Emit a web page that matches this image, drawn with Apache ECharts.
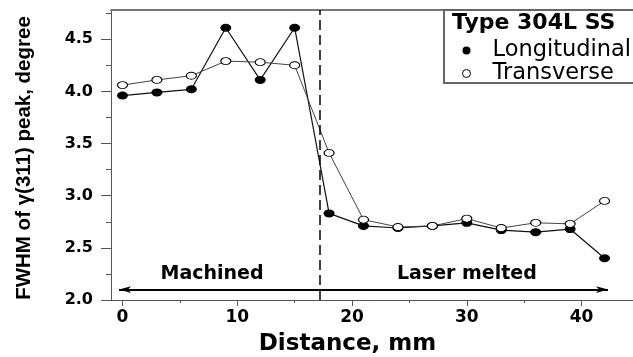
<!DOCTYPE html>
<html>
<head>
<meta charset="utf-8">
<script src="https://cdn.jsdelivr.net/npm/echarts@6/dist/echarts.min.js"></script>
<style>html,body{margin:0;padding:0;background:#fff}#c{width:633px;height:357px}</style>
</head>
<body>
<div id="c"></div>
<script>
const distance = [0, 3, 6, 9, 12, 15, 18, 21, 24, 27, 30, 33, 36, 39, 42];
const longitudinal = [3.96, 3.99, 4.02, 4.61, 4.11, 4.61, 2.83, 2.71, 2.69, 2.71, 2.74, 2.67, 2.65, 2.68, 2.40];
const transverse = [4.06, 4.11, 4.15, 4.29, 4.28, 4.25, 3.41, 2.77, 2.70, 2.71, 2.78, 2.69, 2.74, 2.73, 2.95];
const xMajorTicks = [0, 10, 20, 30, 40];
const xMinorTicks = [5, 15, 25, 35];
const yMajorTicks = [2.0, 2.5, 3.0, 3.5, 4.0, 4.5];
const yMinorTicks = [2.25, 2.75, 3.25, 3.75, 4.25, 4.75];
const boundaryX = 17.2;
const arrowY = 2.1;
const arrowRange = [-0.3, 42.3];
const regionLabels = [["Machined", 7.8, 2.25], ["Laser melted", 30.0, 2.25]];

const pairs = (ys) => distance.map((x, i) => [x, ys[i]]);
const tickFont = { fontFamily: 'DejaVu Sans', fontWeight: 'bold', color: '#000' };

const chart = echarts.init(document.getElementById('c'), null, { renderer: 'canvas' });
chart.setOption({
  animation: false,
  backgroundColor: '#fff',
  grid: { left: 111, top: 10, bottom: 57, right: -6, containLabel: false, outerBoundsMode: 'none' },
  title: {
    text: 'Type 304L SS', left: 452, top: 12, padding: 0,
    textStyle: { fontFamily: 'DejaVu Sans', fontWeight: 'bold', fontSize: 22, color: '#000' }
  },
  legend: {
    orient: 'vertical', left: 462, top: 39, padding: 0, itemGap: 0,
    itemWidth: 10, itemHeight: 8, symbolKeepAspect: false, icon: 'circle',
    textStyle: { fontFamily: 'DejaVu Sans', fontSize: 22.5, color: '#000', lineHeight: 23, padding: [0, 0, 0, 16] },
    data: [
      { name: 'Longitudinal', itemStyle: { color: '#000', borderWidth: 0 } },
      { name: 'Transverse', itemStyle: { color: '#fff', borderColor: '#000', borderWidth: 1 } }
    ]
  },
  graphic: [{
    type: 'rect', z: 3, shape: { x: 444, y: 10, width: 200, height: 73 },
    style: { fill: '#fff', stroke: '#666', lineWidth: 2 }
  }],
  xAxis: [{
    type: 'value', min: -1, max: 45, position: 'bottom',
    name: 'Distance, mm', nameLocation: 'middle', nameGap: 33,
    nameTextStyle: { fontFamily: 'DejaVu Sans', fontWeight: 'bold', fontSize: 23, color: '#000', padding: [0, 55, 0, 0] },
    axisLine: { onZero: false, lineStyle: { color: '#555', width: 1 } },
    axisTick: { inside: false, length: 6, customValues: xMajorTicks, lineStyle: { color: '#555' } },
    axisLabel: Object.assign({ fontSize: 17, margin: 9, customValues: xMajorTicks }, tickFont),
    splitLine: { show: false }
  }, {
    type: 'value', min: -1, max: 45, position: 'bottom',
    axisLine: { show: false, onZero: false },
    axisTick: { inside: false, length: 3, customValues: xMinorTicks, lineStyle: { color: '#555' } },
    axisLabel: { show: false }, splitLine: { show: false }
  }, {
    type: 'value', min: -1, max: 45, position: 'top',
    axisLine: { show: true, onZero: false, lineStyle: { color: '#777', width: 2 } },
    axisTick: { show: false }, axisLabel: { show: false }, splitLine: { show: false }
  }],
  yAxis: [{
    type: 'value', min: 2, max: 4.78, position: 'left',
    name: 'FWHM of γ(311) peak, degree', nameLocation: 'middle', nameGap: 76, nameRotate: 90,
    nameTextStyle: { fontFamily: 'Liberation Sans', fontWeight: 'bold', fontSize: 20.5, color: '#000', padding: [0, 6, 0, 0] },
    axisLine: { show: true, onZero: false, lineStyle: { color: '#555', width: 1 } },
    axisTick: { inside: false, length: 10, customValues: yMajorTicks, lineStyle: { color: '#555' } },
    axisLabel: Object.assign({ fontSize: 16, margin: 18, customValues: yMajorTicks, formatter: (v) => v.toFixed(1) }, tickFont),
    splitLine: { show: false }
  }, {
    type: 'value', min: 2, max: 4.78, position: 'left',
    axisLine: { show: false, onZero: false },
    axisTick: { inside: false, length: 5, customValues: yMinorTicks, lineStyle: { color: '#555' } },
    axisLabel: { show: false }, splitLine: { show: false }
  }],
  series: [{
    name: 'Longitudinal', type: 'line', xAxisIndex: 0, yAxisIndex: 0, z: 2,
    data: pairs(longitudinal),
    symbol: 'circle', symbolSize: [11, 8],
    itemStyle: { color: '#000' },
    lineStyle: { color: '#111', width: 1.2 },
    markLine: {
      silent: true, symbol: 'none', animation: false,
      label: { show: false },
      lineStyle: { color: '#000', width: 1.5, type: [10, 5] },
      data: [{ xAxis: boundaryX }]
    },
    markPoint: {
      silent: true, symbol: 'circle', symbolSize: 0,
      label: { show: true, position: 'inside', fontFamily: 'DejaVu Sans', fontWeight: 'bold', fontSize: 19, color: '#000',
        formatter: (p) => p.name },
      data: regionLabels.map(r => ({ name: r[0], coord: [r[1], r[2]] }))
    }
  }, {
    name: 'Transverse', type: 'line', xAxisIndex: 0, yAxisIndex: 0, z: 3,
    data: pairs(transverse),
    symbol: 'circle', symbolSize: [10, 7],
    itemStyle: { color: '#fff', borderColor: '#000', borderWidth: 1 },
    lineStyle: { color: '#444', width: 1 },
    markLine: {
      silent: true, symbol: ['arrow', 'arrow'], symbolSize: [5, 12], animation: false,
      label: { show: false },
      lineStyle: { color: '#000', width: 2, type: 'solid' },
      data: [[{ coord: [arrowRange[0], arrowY] }, { coord: [arrowRange[1], arrowY] }]]
    }
  }]
});
</script>
</body>
</html>
